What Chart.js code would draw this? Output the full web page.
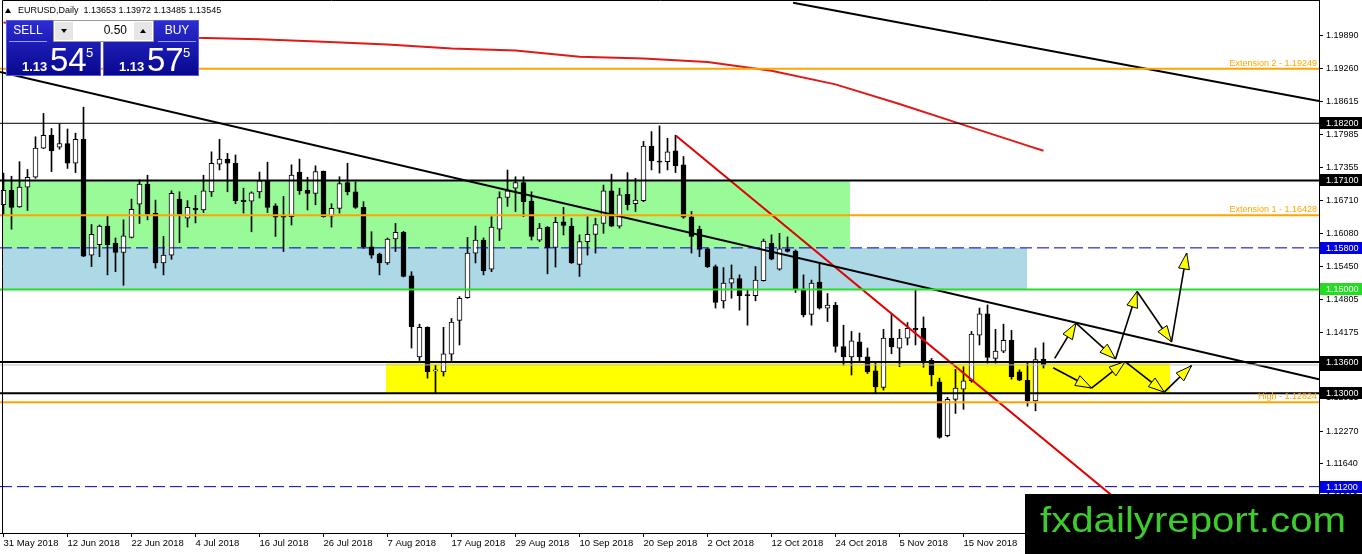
<!DOCTYPE html>
<html>
<head>
<meta charset="utf-8">
<title>EURUSD Daily</title>
<script src="https://cdn.jsdelivr.net/npm/chart.js@4.4.1/dist/chart.umd.min.js"></script>
<style>
  html, body { margin: 0; padding: 0; background: #fff; }
  #wrap { width: 1362px; height: 554px; }
</style>
</head>
<body>
<div id="wrap"><canvas id="chart" width="1362" height="554"></canvas></div>
<script>
'use strict';

// one label every 8 sessions, first bar = 31 May 2018
var dateLabels = ['31 May 2018', '12 Jun 2018', '22 Jun 2018', '4 Jul 2018', '16 Jul 2018', '26 Jul 2018',
    '7 Aug 2018', '17 Aug 2018', '29 Aug 2018', '10 Sep 2018', '20 Sep 2018', '2 Oct 2018',
    '12 Oct 2018', '24 Oct 2018', '5 Nov 2018', '15 Nov 2018'];

var opens = [1.1663, 1.1691, 1.1659, 1.1697, 1.1716, 1.1772, 1.1797, 1.1774, 1.1781, 1.1743,
    1.1789, 1.1566, 1.1586, 1.1622, 1.1589, 1.1571, 1.1600, 1.1664, 1.1703, 1.1647,
    1.1551, 1.1566, 1.1674, 1.1637, 1.1656, 1.1653, 1.1688, 1.1741, 1.1751, 1.1743,
    1.1672, 1.1670, 1.1688, 1.1709, 1.1661, 1.1641, 1.1640, 1.1726, 1.1691, 1.1685,
    1.1728, 1.1641, 1.1656, 1.1706, 1.1688, 1.1658, 1.1582, 1.1568, 1.1551, 1.1597,
    1.1610, 1.1526, 1.1370, 1.1427, 1.1343, 1.1341, 1.1375, 1.1440, 1.1484, 1.1570,
    1.1595, 1.1539, 1.1616, 1.1677, 1.1695, 1.1706, 1.1670, 1.1595, 1.1620, 1.1581,
    1.1630, 1.1622, 1.1548, 1.1592, 1.1606, 1.1627, 1.1690, 1.1622, 1.1683, 1.1665,
    1.1671, 1.1776, 1.1747, 1.1746, 1.1767, 1.1740, 1.1640, 1.1616, 1.1578, 1.1544,
    1.1478, 1.1512, 1.1521, 1.1489, 1.1488, 1.1517, 1.1589, 1.1539, 1.1578, 1.1574,
    1.1499, 1.1452, 1.1514, 1.1464, 1.1470, 1.1390, 1.1370, 1.1399, 1.1370, 1.1343,
    1.1311, 1.1406, 1.1387, 1.1406, 1.1425, 1.1425, 1.1364, 1.1322, 1.1218, 1.1288,
    1.1308, 1.1324, 1.1412, 1.1453, 1.1367, 1.1381, 1.1402, 1.1341, 1.1325, 1.1285,
    1.13653];
var highs = [1.1724, 1.1718, 1.1746, 1.1731, 1.1794, 1.1839, 1.1810, 1.1819, 1.1809, 1.1801,
    1.1851, 1.1625, 1.1624, 1.1641, 1.1599, 1.1634, 1.1674, 1.1711, 1.1720, 1.1672,
    1.1602, 1.1690, 1.1688, 1.1671, 1.1681, 1.1720, 1.1765, 1.1789, 1.1762, 1.1759,
    1.1695, 1.1688, 1.1726, 1.1745, 1.1665, 1.1679, 1.1740, 1.1751, 1.1716, 1.1738,
    1.1728, 1.1665, 1.1717, 1.1743, 1.1707, 1.1669, 1.1611, 1.1570, 1.1599, 1.1627,
    1.1612, 1.1534, 1.1433, 1.1428, 1.1354, 1.1427, 1.1444, 1.1486, 1.1600, 1.1622,
    1.1599, 1.1640, 1.1688, 1.1730, 1.1717, 1.1717, 1.1688, 1.1627, 1.1621, 1.1639,
    1.1658, 1.1637, 1.1605, 1.1640, 1.1637, 1.1701, 1.1722, 1.1695, 1.1725, 1.1714,
    1.1785, 1.1804, 1.1815, 1.1791, 1.1797, 1.1756, 1.1650, 1.1622, 1.1579, 1.1547,
    1.1542, 1.1547, 1.1528, 1.1499, 1.1544, 1.1597, 1.1605, 1.1608, 1.1601, 1.1576,
    1.1528, 1.1518, 1.1550, 1.1492, 1.1475, 1.1431, 1.1419, 1.1416, 1.1387, 1.1358,
    1.1423, 1.1454, 1.1423, 1.1436, 1.1500, 1.1447, 1.1367, 1.1329, 1.1292, 1.1346,
    1.1351, 1.1419, 1.1464, 1.1470, 1.1423, 1.1433, 1.1421, 1.1345, 1.1361, 1.1387,
    1.13972];
var lows = [1.1643, 1.1616, 1.1658, 1.1652, 1.1714, 1.1771, 1.1727, 1.1770, 1.1733, 1.1725,
    1.1563, 1.1544, 1.1563, 1.1528, 1.1534, 1.1508, 1.1599, 1.1627, 1.1634, 1.1541,
    1.1528, 1.1558, 1.1590, 1.1620, 1.1628, 1.1648, 1.1679, 1.1730, 1.1688, 1.1665,
    1.1647, 1.1611, 1.1676, 1.1648, 1.1602, 1.1573, 1.1624, 1.1683, 1.1653, 1.1663,
    1.1639, 1.1620, 1.1647, 1.1682, 1.1656, 1.1579, 1.1560, 1.1528, 1.1548, 1.1573,
    1.1524, 1.1387, 1.1363, 1.1329, 1.1301, 1.1333, 1.1363, 1.1393, 1.1483, 1.1551,
    1.1528, 1.1534, 1.1594, 1.1660, 1.1650, 1.1640, 1.1595, 1.1592, 1.1530, 1.1543,
    1.1605, 1.1550, 1.1525, 1.1566, 1.1570, 1.1608, 1.1621, 1.1618, 1.1653, 1.1650,
    1.1669, 1.1730, 1.1724, 1.1730, 1.1725, 1.1637, 1.1570, 1.1563, 1.1542, 1.1464,
    1.1464, 1.1483, 1.1460, 1.1431, 1.1478, 1.1516, 1.1557, 1.1537, 1.1572, 1.1494,
    1.1447, 1.1431, 1.1462, 1.1438, 1.1379, 1.1354, 1.1335, 1.1361, 1.1338, 1.1301,
    1.1306, 1.1376, 1.1351, 1.1393, 1.1393, 1.1350, 1.1314, 1.1213, 1.1216, 1.1261,
    1.1269, 1.1321, 1.1393, 1.1358, 1.1358, 1.1378, 1.1327, 1.1324, 1.1275, 1.1266,
    1.13485];
var closes = [1.1691, 1.1658, 1.1697, 1.1716, 1.1772, 1.1797, 1.1767, 1.1781, 1.1743, 1.1789,
    1.1564, 1.1606, 1.1622, 1.1586, 1.1571, 1.1603, 1.1654, 1.1703, 1.1645, 1.1551,
    1.1566, 1.1685, 1.1645, 1.1658, 1.1653, 1.1690, 1.1743, 1.1751, 1.1743, 1.1671,
    1.1669, 1.1686, 1.1709, 1.1658, 1.1639, 1.1639, 1.1720, 1.1690, 1.1685, 1.1727,
    1.1640, 1.1656, 1.1704, 1.1688, 1.1658, 1.1582, 1.1566, 1.1551, 1.1597, 1.1610,
    1.1525, 1.1428, 1.1427, 1.1341, 1.1344, 1.1376, 1.1437, 1.1483, 1.1570, 1.1595,
    1.1536, 1.1620, 1.1677, 1.1690, 1.1706, 1.1669, 1.1602, 1.1618, 1.1580, 1.1629,
    1.1623, 1.1551, 1.1592, 1.1606, 1.1625, 1.1690, 1.1622, 1.1682, 1.1663, 1.1672,
    1.1776, 1.1748, 1.1745, 1.1765, 1.1738, 1.1639, 1.1602, 1.1577, 1.1544, 1.1475,
    1.1512, 1.1521, 1.1488, 1.1488, 1.1518, 1.1593, 1.1558, 1.1578, 1.1573, 1.1501,
    1.1451, 1.1512, 1.1464, 1.1470, 1.1390, 1.1370, 1.1401, 1.1370, 1.1341, 1.1312,
    1.1406, 1.1389, 1.1406, 1.1425, 1.1422, 1.1361, 1.1335, 1.1215, 1.1288, 1.1310,
    1.1324, 1.1414, 1.1453, 1.1369, 1.1381, 1.1402, 1.1332, 1.1325, 1.1285, 1.1365,
    1.13545];

// red moving average, read at a few bars
var maBars = [0, 8, 16, 24, 32, 40, 48, 56, 64, 72, 80, 88, 96, 104, 112, 120, 128, 130];
var maValues = [1.2014, 1.2005, 1.1995, 1.1985, 1.1982, 1.1977, 1.1972, 1.1964, 1.1960, 1.1948,
    1.1945, 1.1938, 1.1921, 1.1895, 1.1857, 1.1817, 1.1777, 1.1767];

var priceTicks = [1.19890, 1.19260, 1.18615, 1.17985, 1.17355, 1.16710, 1.16080, 1.15450,
    1.14805, 1.14175, 1.13545, 1.12915, 1.12270, 1.11640, 1.11010];

var blackLevels = [1.182, 1.171, 1.136, 1.130];
var blueLevels = [1.158, 1.112];
var greenLevel = 1.150;
var lastPrice = 1.13545;
var fiboLevels = [1.19249, 1.16428, 1.12824];
var fiboNames = ['Extension 2 - 1.19249', 'Extension 1 - 1.16428', 'High - 1.12824'];

var greenZoneBars = [-0.06, 105.8];
var greenZonePrices = [1.158, 1.171];
var blueZoneBars = [-0.06, 127.9];
var blueZonePrices = [1.150, 1.158];
var yellowZoneBars = [47.8, 145.8];
var yellowZonePrices = [1.130, 1.136];

var trendBars = [-0.44, 164.44];
var trendPrices = [1.1919, 1.1327];
var upperTrendBars = [98.7, 164.44];
var upperTrendPrices = [1.2052, 1.1863];
var redTrendBars = [84.06, 144.2];
var redTrendPrices = [1.1796, 1.1031];

// projected zigzags (yellow arrows)
var upPathBars = [131.4, 134.06, 139.0, 141.7, 146.0, 147.9];
var upPathPrices = [1.1367, 1.1435, 1.1366, 1.1496, 1.1399, 1.1570];
var downPathBars = [131.2, 136.0, 140.2, 145.1, 148.5];
var downPathPrices = [1.1349, 1.1310, 1.1361, 1.1302, 1.1353];

var X_MIN = -0.4375, X_MAX = 164.4375;
var Y_MIN = 1.10307, Y_MAX = 1.20575;
var FONT = '"Liberation Sans", Arial, sans-serif';

function levelLine(price, color, width, dash) {
    return {
        type: 'line',
        data: [{x: X_MIN, y: price}, {x: X_MAX, y: price}],
        borderColor: color, borderWidth: width, borderDash: dash || [],
        pointRadius: 0, fill: false, order: 0
    };
}

function pathLine(bars, prices, color, width) {
    return {
        type: 'line',
        data: bars.map(function (b, i) { return {x: b, y: prices[i]}; }),
        borderColor: color, borderWidth: width,
        pointRadius: 0, fill: false, tension: 0, order: 0
    };
}

var barIdx = opens.map(function (o, i) { return i; });

var datasets = [
    {
        type: 'bar', grouped: false, order: 2,
        data: barIdx.map(function (i) { return {x: i, y: [lows[i], highs[i]]}; }),
        backgroundColor: '#000', barThickness: 1, minBarLength: 1
    },
    {
        type: 'bar', grouped: false, order: 1,
        data: barIdx.map(function (i) { return {x: i, y: [opens[i], closes[i]]}; }),
        backgroundColor: barIdx.map(function (i) { return closes[i] >= opens[i] ? '#ffffff' : '#000000'; }),
        borderColor: '#000', borderWidth: 1, borderSkipped: false,
        barThickness: 5, minBarLength: 1
    },
    levelLine(lastPrice, '#c0c0c0', 1),
    levelLine(fiboLevels[0], '#ffa500', 2),
    levelLine(fiboLevels[1], '#ffa500', 2),
    levelLine(fiboLevels[2], '#ffa500', 2),
    levelLine(blueLevels[0], '#0000a0', 1, [12, 5]),
    levelLine(blueLevels[1], '#0000a0', 1, [12, 5]),
    levelLine(greenLevel, '#22e022', 2),
    levelLine(blackLevels[0], '#000', 1),
    levelLine(blackLevels[1], '#000', 2),
    levelLine(blackLevels[2], '#000', 2),
    levelLine(blackLevels[3], '#000', 2),
    pathLine(maBars, maValues, '#e01818', 2),
    pathLine(trendBars, trendPrices, '#000', 2),
    pathLine(upperTrendBars, upperTrendPrices, '#000', 2),
    pathLine(redTrendBars, redTrendPrices, '#e00000', 2)
];

function fillZone(ctx, xs, ys, bars, prices, color) {
    var x1 = Math.round(xs.getPixelForValue(bars[0]));
    var x2 = Math.round(xs.getPixelForValue(bars[1]));
    var y1 = Math.round(ys.getPixelForValue(prices[1]));
    var y2 = Math.round(ys.getPixelForValue(prices[0]));
    ctx.fillStyle = color;
    ctx.fillRect(x1, y1, x2 - x1, y2 - y1);
}

function drawArrow(ctx, x1, y1, x2, y2) {
    ctx.strokeStyle = '#000';
    ctx.lineWidth = 1.6;
    ctx.beginPath();
    ctx.moveTo(x1, y1);
    ctx.lineTo(x2, y2);
    ctx.stroke();
    var a = Math.atan2(y2 - y1, x2 - x1);
    var len = 16, hw = 5.5;
    var bx = x2 - len * Math.cos(a), by = y2 - len * Math.sin(a);
    ctx.beginPath();
    ctx.moveTo(x2, y2);
    ctx.lineTo(bx + hw * Math.sin(a), by - hw * Math.cos(a));
    ctx.lineTo(bx - hw * Math.sin(a), by + hw * Math.cos(a));
    ctx.closePath();
    ctx.fillStyle = '#ffff00';
    ctx.fill();
    ctx.lineWidth = 1;
    ctx.stroke();
}

function drawPath(ctx, xs, ys, bars, prices) {
    for (var i = 1; i < bars.length; i++) {
        drawArrow(ctx, xs.getPixelForValue(bars[i - 1]), ys.getPixelForValue(prices[i - 1]),
            xs.getPixelForValue(bars[i]), ys.getPixelForValue(prices[i]));
    }
}

function priceBox(ctx, ys, price, bg, left) {
    var y = Math.round(ys.getPixelForValue(price));
    ctx.fillStyle = bg;
    ctx.fillRect(left + 1, y - 6, 1362 - left - 1, 12);
    ctx.fillStyle = '#fff';
    ctx.font = '9px ' + FONT;
    ctx.textAlign = 'left';
    ctx.textBaseline = 'middle';
    ctx.fillText(price.toFixed(5), left + 7, y + 0.5);
}

function tradeBox(ctx, x, w, label, big, small, btnX, btnW) {
    var g = ctx.createLinearGradient(0, 20, 0, 76);
    g.addColorStop(0, '#2c2cd4');
    g.addColorStop(1, '#07078c');
    ctx.fillStyle = g;
    ctx.fillRect(x, 20, w, 56);
    ctx.strokeStyle = '#5858e8';
    ctx.lineWidth = 1;
    ctx.strokeRect(x + 0.5, 20.5, w - 1, 55);
    ctx.strokeStyle = '#9a9aff';
    ctx.beginPath();
    ctx.moveTo(btnX + 2, 41.5);
    ctx.lineTo(btnX + btnW - 2, 41.5);
    ctx.stroke();
    ctx.fillStyle = '#fff';
    ctx.textBaseline = 'middle';
    ctx.textAlign = 'center';
    ctx.font = '12px ' + FONT;
    ctx.fillText(label, btnX + btnW / 2, 31);
    ctx.textBaseline = 'alphabetic';
    ctx.textAlign = 'left';
    ctx.font = 'bold 13px ' + FONT;
    ctx.fillText('1.13', x + 16, 71);
    ctx.font = '33px ' + FONT;
    ctx.fillText(big, x + 44, 71);
    ctx.font = '13px ' + FONT;
    ctx.fillText(small, x + 80, 57);
}

function noPadding(scale) {
    scale.paddingTop = 0;
    scale.paddingBottom = 0;
    scale.paddingLeft = 0;
    scale.paddingRight = 0;
}

var mt4Overlay = {
    id: 'mt4Overlay',
    beforeDatasetsDraw: function (chart) {
        var ctx = chart.ctx, xs = chart.scales.x, ys = chart.scales.y;
        ctx.save();
        fillZone(ctx, xs, ys, greenZoneBars, greenZonePrices, '#98fb98');
        fillZone(ctx, xs, ys, blueZoneBars, blueZonePrices, '#add8e6');
        fillZone(ctx, xs, ys, yellowZoneBars, yellowZonePrices, '#ffff00');
        ctx.restore();
    },
    afterDatasetsDraw: function (chart) {
        var ctx = chart.ctx, xs = chart.scales.x, ys = chart.scales.y, area = chart.chartArea;
        ctx.save();
        ctx.font = '9px ' + FONT;
        ctx.fillStyle = '#ffa500';
        ctx.textAlign = 'right';
        ctx.textBaseline = 'alphabetic';
        fiboLevels.forEach(function (p, k) {
            ctx.fillText(fiboNames[k], area.right - 2, ys.getPixelForValue(p) - 3);
        });
        drawPath(ctx, xs, ys, upPathBars, upPathPrices);
        drawPath(ctx, xs, ys, downPathBars, downPathPrices);
        ctx.restore();
    },
    afterDraw: function (chart) {
        var ctx = chart.ctx, ys = chart.scales.y, area = chart.chartArea;
        ctx.save();
        // frame
        ctx.strokeStyle = '#000';
        ctx.lineWidth = 1;
        ctx.beginPath();
        ctx.moveTo(2.5, area.bottom);
        ctx.lineTo(2.5, 0.5);
        ctx.lineTo(area.right, 0.5);
        ctx.stroke();

        // price boxes on the axis
        priceBox(ctx, ys, lastPrice, '#000', area.right);
        blackLevels.forEach(function (p) { priceBox(ctx, ys, p, '#000', area.right); });
        blueLevels.forEach(function (p) { priceBox(ctx, ys, p, '#0000e6', area.right); });
        priceBox(ctx, ys, greenLevel, '#22dd22', area.right);

        // header
        ctx.fillStyle = '#000';
        ctx.beginPath();
        ctx.moveTo(5, 13);
        ctx.lineTo(11, 13);
        ctx.lineTo(8, 8);
        ctx.closePath();
        ctx.fill();
        ctx.font = '9px ' + FONT;
        ctx.textAlign = 'left';
        ctx.textBaseline = 'middle';
        ctx.fillText('EURUSD,Daily  ' + opens[opens.length - 1].toFixed(5) + ' ' + highs[highs.length - 1].toFixed(5) +
            ' ' + lows[lows.length - 1].toFixed(5) + ' ' + closes[closes.length - 1].toFixed(5), 18, 11);

        // one-click trading panel
        tradeBox(ctx, 6, 95, 'SELL', '54', '5', 7, 42);
        tradeBox(ctx, 103, 96, 'BUY', '57', '5', 156, 42);
        ctx.fillStyle = '#fff';
        ctx.fillRect(53, 20, 101, 22);
        ctx.strokeStyle = '#9a9a9a';
        ctx.strokeRect(53.5, 20.5, 100, 21);
        ctx.fillStyle = '#e6e6e6';
        ctx.fillRect(55, 22, 18, 18);
        ctx.fillRect(134, 22, 18, 18);
        ctx.fillStyle = '#000';
        ctx.beginPath();
        ctx.moveTo(61, 29); ctx.lineTo(67, 29); ctx.lineTo(64, 33); ctx.closePath();
        ctx.moveTo(140, 33); ctx.lineTo(146, 33); ctx.lineTo(143, 29); ctx.closePath();
        ctx.fill();
        ctx.font = '12px ' + FONT;
        ctx.textAlign = 'right';
        ctx.textBaseline = 'middle';
        ctx.fillText('0.50', 127, 31);

        // watermark banner
        ctx.fillStyle = '#000';
        ctx.fillRect(1025, 494, 337, 60);
        ctx.font = '35px ' + FONT;
        ctx.textAlign = 'left';
        ctx.textBaseline = 'alphabetic';
        var txt = 'fxdailyreport.com';
        var w = ctx.measureText(txt).width;
        ctx.translate(1040, 532);
        ctx.scale(306 / w, 1);
        ctx.fillStyle = '#3ccc2c';
        ctx.fillText(txt, 0, 0);
        ctx.restore();
    }
};

new Chart(document.getElementById('chart'), {
    type: 'bar',
    data: {datasets: datasets},
    plugins: [mt4Overlay],
    options: {
        responsive: false,
        animation: false,
        devicePixelRatio: 1,
        layout: {padding: 0, autoPadding: false},
        plugins: {legend: {display: false}, tooltip: {enabled: false}},
        scales: {
            x: {
                type: 'linear', min: X_MIN, max: X_MAX, offset: false,
                grid: {display: true, drawOnChartArea: false, drawTicks: true, tickLength: 4, color: '#000', offset: false},
                border: {display: true, color: '#000'},
                ticks: {
                    align: 'start', maxRotation: 0, autoSkip: false, padding: 1, color: '#000',
                    font: {family: FONT, size: 9.5},
                    callback: function (v) { return dateLabels[Math.round(v / 8)]; }
                },
                afterBuildTicks: function (scale) {
                    scale.ticks = dateLabels.map(function (d, k) { return {value: k * 8}; });
                },
                afterFit: function (scale) { scale.height = 21; noPadding(scale); }
            },
            y: {
                type: 'linear', position: 'right', min: Y_MIN, max: Y_MAX,
                grid: {display: true, drawOnChartArea: false, drawTicks: true, tickLength: 4, color: '#000'},
                border: {display: true, color: '#000'},
                ticks: {
                    padding: 3, color: '#000', font: {family: FONT, size: 9},
                    callback: function (v) { return Number(v).toFixed(5); }
                },
                afterBuildTicks: function (scale) {
                    scale.ticks = priceTicks.map(function (v) { return {value: v}; });
                },
                afterFit: function (scale) { scale.width = 43; noPadding(scale); }
            }
        }
    }
});
</script>
</body>
</html>
